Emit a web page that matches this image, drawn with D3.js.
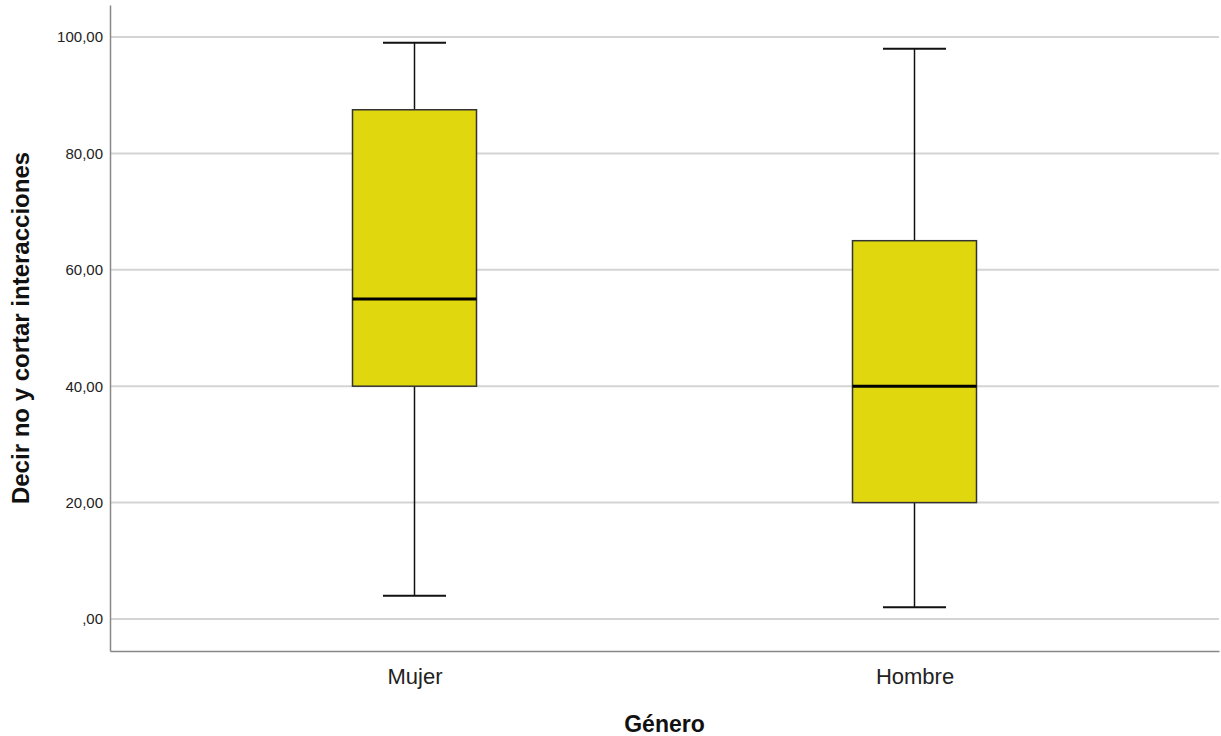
<!DOCTYPE html>
<html>
<head>
<meta charset="utf-8">
<script src="https://cdn.jsdelivr.net/npm/d3@7"></script>
<style>
  body { margin: 0; background: #fff; }
  svg { display: block; font-family: "Liberation Sans", Arial, sans-serif; }
</style>
</head>
<body>
<div id="chart"></div>
<script>
// values
const categories = ["Mujer", "Hombre"];
const mins = [4, 2];
const q1s = [40, 20];
const medians = [55, 40];
const q3s = [87.5, 65];
const maxs = [99, 98];
const yTicks = [0, 20, 40, 60, 80, 100];

const width = 1221, height = 736;
const margin = {top: 5, right: 2, bottom: 85, left: 110};

const svg = d3.select("#chart").append("svg")
    .attr("width", width)
    .attr("height", height);

const x = d3.scalePoint()
    .domain(categories)
    .range([margin.left, width - margin.right])
    .padding(0.609);

const y = d3.scaleLinear()
    .domain([-5.5, 105.5])
    .range([height - margin.bottom, margin.top]);

const fmt = v => v === 0 ? ",00" : d3.format(".2f")(v).replace(".", ",");

// gridlines
svg.append("g")
    .selectAll("line")
    .data(yTicks)
    .enter().append("line")
    .attr("x1", margin.left)
    .attr("x2", width - margin.right)
    .attr("y1", d => y(d))
    .attr("y2", d => y(d))
    .style("stroke", "#d4d4d4")
    .style("stroke-width", 2);

// y axis
const yAxis = svg.append("g")
    .attr("transform", `translate(${margin.left},0)`)
    .call(d3.axisLeft(y).tickValues(yTicks).tickFormat(fmt).tickSize(0).tickPadding(7));
yAxis.select(".domain").style("stroke", "#888").style("stroke-width", 1.5);
yAxis.selectAll("text")
    .style("font-size", "15px")
    .style("fill", "#222")
    .style("font-family", "'Liberation Sans', Arial, sans-serif");

// x axis
const xAxis = svg.append("g")
    .attr("transform", `translate(0,${height - margin.bottom})`)
    .call(d3.axisBottom(x).tickSize(0).tickPadding(17).tickSizeOuter(0));
xAxis.select(".domain").style("stroke", "#888").style("stroke-width", 1.5);
xAxis.selectAll("text")
    .style("font-size", "22px")
    .style("fill", "#222")
    .style("font-family", "'Liberation Sans', Arial, sans-serif");

// boxes
const boxW = 124, capW = 63;
const boxes = svg.append("g")
    .selectAll("g")
    .data(categories)
    .enter().append("g");

boxes.append("line")
    .attr("x1", d => x(d)).attr("x2", d => x(d))
    .attr("y1", (d, i) => y(maxs[i])).attr("y2", (d, i) => y(q3s[i]))
    .style("stroke", "#111").style("stroke-width", 1.5);
boxes.append("line")
    .attr("x1", d => x(d)).attr("x2", d => x(d))
    .attr("y1", (d, i) => y(q1s[i])).attr("y2", (d, i) => y(mins[i]))
    .style("stroke", "#111").style("stroke-width", 1.5);
boxes.append("line")
    .attr("x1", d => x(d) - capW / 2).attr("x2", d => x(d) + capW / 2)
    .attr("y1", (d, i) => y(maxs[i])).attr("y2", (d, i) => y(maxs[i]))
    .style("stroke", "#111").style("stroke-width", 2);
boxes.append("line")
    .attr("x1", d => x(d) - capW / 2).attr("x2", d => x(d) + capW / 2)
    .attr("y1", (d, i) => y(mins[i])).attr("y2", (d, i) => y(mins[i]))
    .style("stroke", "#111").style("stroke-width", 2);

boxes.append("rect")
    .attr("x", d => x(d) - boxW / 2)
    .attr("width", boxW)
    .attr("y", (d, i) => y(q3s[i]))
    .attr("height", (d, i) => y(q1s[i]) - y(q3s[i]))
    .style("fill", "#e1d70f")
    .style("stroke", "#333")
    .style("stroke-width", 1.5);

boxes.append("line")
    .attr("x1", d => x(d) - boxW / 2).attr("x2", d => x(d) + boxW / 2)
    .attr("y1", (d, i) => y(medians[i])).attr("y2", (d, i) => y(medians[i]))
    .style("stroke", "#000").style("stroke-width", 3);

// axis titles
svg.append("text")
    .attr("x", (margin.left + width - margin.right) / 2)
    .attr("y", 732)
    .attr("text-anchor", "middle")
    .style("font-size", "23px")
    .style("font-weight", "bold")
    .style("fill", "#111")
    .text("Género");

svg.append("text")
    .attr("transform", "translate(29,328) rotate(-90)")
    .attr("text-anchor", "middle")
    .style("font-size", "24px")
    .style("font-weight", "bold")
    .style("fill", "#111")
    .text("Decir no y cortar interacciones");
</script>
</body>
</html>
